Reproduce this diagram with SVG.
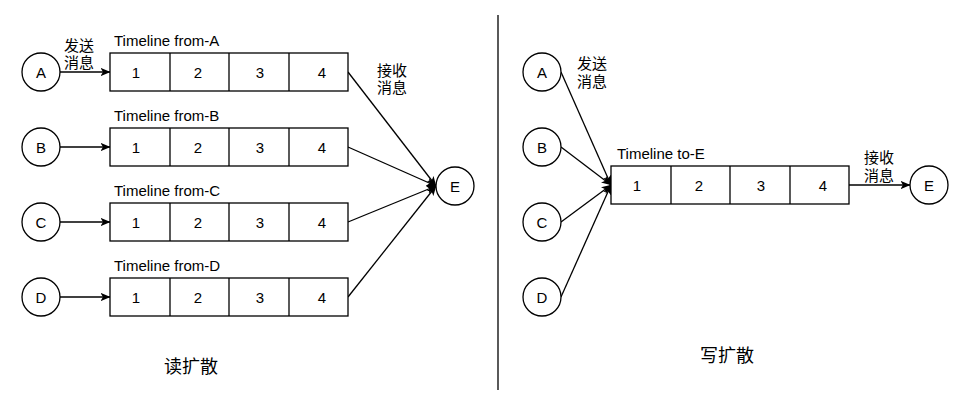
<svg xmlns="http://www.w3.org/2000/svg" width="961" height="411" viewBox="0 0 961 411">
<style>
text{font-family:"Liberation Sans","Noto Sans CJK SC",Arial,sans-serif;font-size:15px;fill:#000}
.c{fill:#fff;stroke:#000;stroke-width:1.3}
.r{fill:#fff;stroke:#000;stroke-width:1.3}
.m{text-anchor:middle}
.e{fill:none;stroke:#000;stroke-width:1.3;marker-end:url(#ah)}
.big{font-size:18px}
</style>
<defs>
<marker id="ah" viewBox="0 0 10 10" refX="9.5" refY="5" markerWidth="10" markerHeight="10" markerUnits="userSpaceOnUse" orient="auto">
<path d="M0,0.8 L10,5 L0,9.2 L2.5,5 z" fill="#000"/>
</marker>
<g id="tl">
<rect class="r" x="0" y="0" width="238" height="38"/>
<line x1="60" y1="0" x2="60" y2="38" stroke="#000" stroke-width="1.3"/>
<line x1="119" y1="0" x2="119" y2="38" stroke="#000" stroke-width="1.3"/>
<line x1="179" y1="0" x2="179" y2="38" stroke="#000" stroke-width="1.3"/>
<text class="m" x="26" y="24.5">1</text>
<text class="m" x="88" y="24.5">2</text>
<text class="m" x="150" y="24.5">3</text>
<text class="m" x="212" y="24.5">4</text>
</g>
</defs>
<line x1="498" y1="15" x2="498" y2="390" stroke="#000" stroke-width="1.3"/>
<g id="connectors">
<line class="e" x1="60" y1="72" x2="110" y2="72"/>
<line class="e" x1="60" y1="147" x2="110" y2="147"/>
<line class="e" x1="60" y1="222" x2="110" y2="222"/>
<line class="e" x1="60" y1="297" x2="110" y2="297"/>
<line class="e" x1="348" y1="72" x2="436" y2="186"/>
<line class="e" x1="348" y1="147" x2="436" y2="186"/>
<line class="e" x1="348" y1="222" x2="436" y2="186"/>
<line class="e" x1="348" y1="297" x2="436" y2="186"/>
<line class="e" x1="561" y1="72" x2="611" y2="185"/>
<line class="e" x1="561" y1="147" x2="611" y2="185"/>
<line class="e" x1="561" y1="222" x2="611" y2="185"/>
<line class="e" x1="561" y1="297" x2="611" y2="185"/>
<line class="e" x1="848" y1="185" x2="910" y2="185"/>
</g>
<g id="labels">
<text x="64" y="51">发送</text>
<text x="64" y="68">消息</text>
<text x="377" y="76">接收</text>
<text x="377" y="93">消息</text>
<text x="577" y="69">发送</text>
<text x="577" y="87">消息</text>
<text x="864" y="163">接收</text>
<text x="864" y="181">消息</text>
<text class="big" x="164" y="373">读扩散</text>
<text class="big" x="700" y="362">写扩散</text>
</g>
<g id="nodeA1"><circle class="c" cx="41" cy="72" r="19"/><text class="m" x="41" y="77.5">A</text></g>
<g id="nodeB1"><circle class="c" cx="41" cy="147" r="19"/><text class="m" x="41" y="152.5">B</text></g>
<g id="nodeC1"><circle class="c" cx="41" cy="222" r="19"/><text class="m" x="41" y="227.5">C</text></g>
<g id="nodeD1"><circle class="c" cx="41" cy="297" r="19"/><text class="m" x="41" y="302.5">D</text></g>
<g id="tlA"><text x="114" y="46">Timeline from-A</text><use href="#tl" x="110" y="53"/></g>
<g id="tlB"><text x="114" y="121">Timeline from-B</text><use href="#tl" x="110" y="128"/></g>
<g id="tlC"><text x="114" y="196">Timeline from-C</text><use href="#tl" x="110" y="203"/></g>
<g id="tlD"><text x="114" y="271">Timeline from-D</text><use href="#tl" x="110" y="278"/></g>
<g id="nodeE1"><circle class="c" cx="455" cy="186" r="19"/><text class="m" x="455" y="191.5">E</text></g>
<g id="nodeA2"><circle class="c" cx="542" cy="72" r="19"/><text class="m" x="542" y="77.5">A</text></g>
<g id="nodeB2"><circle class="c" cx="542" cy="147" r="19"/><text class="m" x="542" y="152.5">B</text></g>
<g id="nodeC2"><circle class="c" cx="542" cy="222" r="19"/><text class="m" x="542" y="227.5">C</text></g>
<g id="nodeD2"><circle class="c" cx="542" cy="297" r="19"/><text class="m" x="542" y="302.5">D</text></g>
<g id="tlE"><text x="617" y="159">Timeline to-E</text><use href="#tl" x="611" y="166"/></g>
<g id="nodeE2"><circle class="c" cx="929" cy="185" r="19"/><text class="m" x="929" y="190.5">E</text></g>
</svg>
